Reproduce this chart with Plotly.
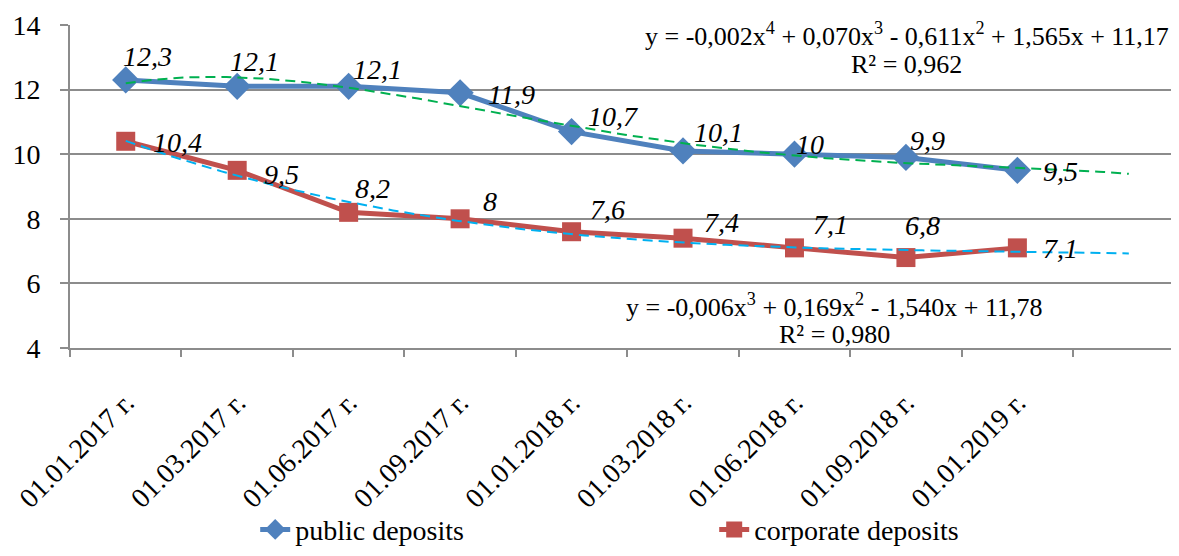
import numpy as np
import plotly.graph_objects as go

# ---- data ----
categories = ["01.01.2017 г.", "01.03.2017 г.", "01.06.2017 г.", "01.09.2017 г.",
              "01.01.2018 г.", "01.03.2018 г.", "01.06.2018 г.", "01.09.2018 г.",
              "01.01.2019 г."]
public_deposits = [12.3, 12.1, 12.1, 11.9, 10.7, 10.1, 10.0, 9.9, 9.5]
corporate_deposits = [10.4, 9.5, 8.2, 8.0, 7.6, 7.4, 7.1, 6.8, 7.1]
y_ticks = [4, 6, 8, 10, 12, 14]

public_eq = "y = -0,002x<sup>4</sup> + 0,070x<sup>3</sup> - 0,611x<sup>2</sup> + 1,565x + 11,17"
public_r2 = "R² = 0,962"
corporate_eq = "y = -0,006x<sup>3</sup> + 0,169x<sup>2</sup> - 1,540x + 11,78"
corporate_r2 = "R² = 0,980"

# label offsets in pixels (dx right, dy down) - styling only
public_label_offsets = [(22, -23), (17, -25), (29, -17), (51, 2), (41, -15),
                        (35, -18), (16, -10), (22, -17), (43, 1)]
corporate_label_offsets = [(52, 1), (44, 4), (24, -24), (30, -17), (36, -22),
                           (38, -16), (36, -23), (17, -32), (43, 1)]

SERIF = "Liberation Serif, Times New Roman, serif"
FS = 28
BLUE = "#4F81BD"
RED = "#C0504D"
GREEN = "#00B050"
CYAN = "#00B0F0"
GRID = "#8C8C8C"

idx = np.arange(len(categories))
xn = idx + 1  # Excel trendline x = 1..n

# polynomial trendlines (fit of the data), forecast forward 1 period
xf = np.linspace(1, len(categories) + 1, 200)
pub_fit = np.polyval(np.polyfit(xn, public_deposits, 4), xf)
cor_fit = np.polyval(np.polyfit(xn, corporate_deposits, 3), xf)

def fmt(v):
    return ("%g" % v).replace(".", ",")

fig = go.Figure()
fig.add_trace(go.Scatter(
    x=idx, y=public_deposits, name="public deposits", mode="lines+markers",
    line=dict(color=BLUE, width=5),
    marker=dict(symbol="diamond", size=21, color=BLUE),
))
fig.add_trace(go.Scatter(
    x=idx, y=corporate_deposits, name="corporate deposits", mode="lines+markers",
    line=dict(color=RED, width=5),
    marker=dict(symbol="square", size=19, color=RED),
))
fig.add_trace(go.Scatter(
    x=xf - 1, y=pub_fit, mode="lines", showlegend=False, hoverinfo="skip",
    line=dict(color=GREEN, width=2, dash="10px,6px"), xaxis="x2",
))
fig.add_trace(go.Scatter(
    x=xf - 1, y=cor_fit, mode="lines", showlegend=False, hoverinfo="skip",
    line=dict(color=CYAN, width=2, dash="10px,6px"), xaxis="x2",
))

label_font = dict(family=SERIF, size=FS, color="black", style="italic")
annotations = []
for i, v in enumerate(public_deposits):
    dx, dy = public_label_offsets[i]
    annotations.append(dict(x=i, y=v, xref="x", yref="y", text=fmt(v), showarrow=False,
                            xshift=dx, yshift=-dy, font=label_font))
for i, v in enumerate(corporate_deposits):
    dx, dy = corporate_label_offsets[i]
    annotations.append(dict(x=i, y=v, xref="x", yref="y", text=fmt(v), showarrow=False,
                            xshift=dx, yshift=-dy, font=label_font))

eq_font = dict(family=SERIF, size=26, color="black")
annotations += [
    dict(x=0.7547, y=0.972, xref="paper", yref="paper", text=public_eq, showarrow=False,
         xanchor="center", yanchor="middle", font=eq_font),
    dict(x=0.7547, y=0.879, xref="paper", yref="paper", text=public_r2, showarrow=False,
         xanchor="center", yanchor="middle", font=eq_font),
    dict(x=0.6897, y=0.1316, xref="paper", yref="paper", text=corporate_eq, showarrow=False,
         xanchor="center", yanchor="middle", font=eq_font),
    dict(x=0.6897, y=0.0433, xref="paper", yref="paper", text=corporate_r2, showarrow=False,
         xanchor="center", yanchor="middle", font=eq_font),
]

# the page body adds an 8px offset, so the figure is sized to fit the window
xr = [-0.5, 9.45]
fig.update_layout(
    template="none",
    width=1171, height=548,
    margin=dict(l=62, r=0, t=17, b=208),
    paper_bgcolor="white", plot_bgcolor="white",
    font=dict(family=SERIF, size=FS, color="black"),
    xaxis=dict(
        range=xr, tickvals=idx, ticktext=categories, tickangle=-45,
        ticks="", showgrid=False, zeroline=False, showline=True, automargin=False,
        linecolor=GRID, linewidth=2, ticklabelstandoff=25,
        tickfont=dict(family=SERIF, size=FS, color="black"),
    ),
    xaxis2=dict(
        range=xr, overlaying="x", anchor="y", side="bottom", automargin=False,
        tickvals=np.arange(-0.5, len(categories) + 1, 1.0), showticklabels=False,
        ticks="outside", ticklen=8, tickwidth=2, tickcolor=GRID,
        showgrid=False, zeroline=False, showline=False,
    ),
    yaxis=dict(
        range=[4, 14], tickvals=y_ticks, ticks="outside", ticklen=8, tickwidth=2,
        tickcolor=GRID, showgrid=True, gridcolor=GRID, gridwidth=2, automargin=False,
        zeroline=False, showline=True, linecolor=GRID, linewidth=2,
        ticklabelstandoff=14,
        tickfont=dict(family=SERIF, size=FS, color="black"),
    ),
    legend=dict(
        orientation="h", x=0.167, xanchor="left", y=-0.64, yanchor="bottom",
        font=dict(family=SERIF, size=FS, color="black"),
        entrywidth=414, entrywidthmode="pixels", bgcolor="rgba(0,0,0,0)",
    ),
    annotations=annotations,
    showlegend=True,
)

fig.write_html("out.html")
